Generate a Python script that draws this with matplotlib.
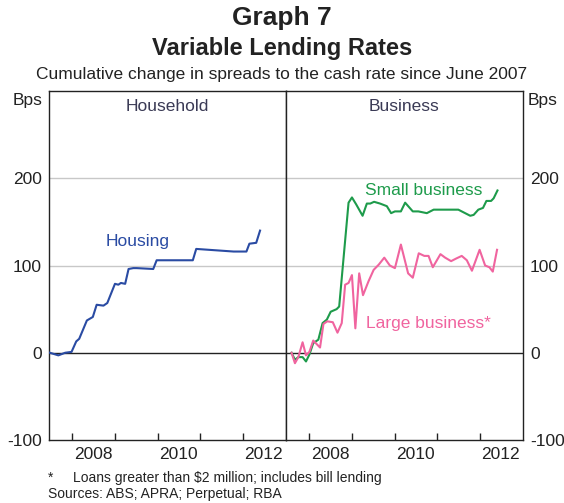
import matplotlib
matplotlib.use("Agg")
import matplotlib.pyplot as plt

plt.rcParams['font.family'] = ['Liberation Sans', 'DejaVu Sans']
plt.rcParams['axes.unicode_minus'] = False

# data (decimal years, basis points)
housing_dates = [2007.47, 2007.67, 2007.83, 2007.98, 2008.09, 2008.16, 2008.34, 2008.48,
                 2008.57, 2008.73, 2008.82, 2009.00, 2009.08, 2009.14, 2009.24, 2009.32,
                 2009.43, 2009.51, 2009.90, 2009.98, 2010.22, 2010.83, 2010.91, 2011.79,
                 2012.09, 2012.16, 2012.32, 2012.41]
housing_bps = [0, -3, 0, 1, 13, 16, 37, 41, 55, 54, 57, 79, 78, 80, 79, 96,
               97, 97, 96, 106, 106, 106, 119, 116, 116, 125, 126, 140]

small_dates = [2007.58, 2007.66, 2007.74, 2007.84, 2007.92, 2008.00, 2008.09, 2008.21,
               2008.31, 2008.41, 2008.50, 2008.64, 2008.70, 2008.92, 2009.00, 2009.10,
               2009.25, 2009.35, 2009.43, 2009.52, 2009.66, 2009.82, 2009.92, 2010.01,
               2010.15, 2010.25, 2010.43, 2010.56, 2010.76, 2010.92, 2011.50, 2011.66,
               2011.78, 2011.86, 2011.97, 2012.08, 2012.16, 2012.27, 2012.33, 2012.42]
small_bps = [0, -8, -5, -5, -10, -2, 11, 15, 34, 38, 47, 50, 53, 172, 178, 170,
             157, 171, 171, 173, 171, 168, 160, 162, 162, 172, 162, 162, 160, 164,
             164, 160, 157, 158, 164, 166, 174, 174, 177, 186]

large_dates = [2007.58, 2007.66, 2007.74, 2007.84, 2007.92, 2008.00, 2008.09, 2008.19,
               2008.25, 2008.33, 2008.42, 2008.55, 2008.66, 2008.76, 2008.84, 2008.92,
               2009.00, 2009.08, 2009.17, 2009.26, 2009.39, 2009.51, 2009.63, 2009.76,
               2009.89, 2010.01, 2010.15, 2010.32, 2010.43, 2010.57, 2010.70, 2010.80,
               2010.90, 2011.08, 2011.19, 2011.33, 2011.45, 2011.58, 2011.70, 2011.82,
               2012.00, 2012.13, 2012.23, 2012.31, 2012.41]
large_bps = [0, -12, -5, 12, -3, 1, 14, 9, 6, 33, 36, 35, 23, 34, 78, 80,
             89, 28, 91, 66, 82, 95, 101, 109, 100, 97, 124, 91, 86, 114, 111, 111,
             98, 113, 109, 105, 108, 111, 106, 94, 118, 100, 98, 93, 118]

year_ticks = [2008, 2009, 2010, 2011, 2012]
year_labels = ['2008', '2010', '2012']
y_ticks = [-100, 0, 100, 200]

blue = '#2a4ba3'
green = '#1e9b4b'
pink = '#f0649f'
dark = '#222222'
fs = 12.5

fig = plt.figure(figsize=(5.64, 5.03), dpi=100)
W, H = 564, 503
axL = fig.add_axes([49 / W, 1 - 440 / H, 237 / W, 349 / H])
axR = fig.add_axes([286 / W, 1 - 440 / H, 237 / W, 349 / H])

for ax in (axL, axR):
    ax.set_xlim(2007.45, 2013.02)
    ax.set_ylim(-100, 300)
    for yv in (100, 200):
        ax.axhline(yv, color='#c8c8c8', lw=1, zorder=1)
    ax.axhline(0, color=dark, lw=1, zorder=2)
    for s in ax.spines.values():
        s.set_color(dark)
        s.set_linewidth(1)
    ax.set_xticks(year_ticks)
    ax.set_xticklabels([])
    ax.tick_params(axis='x', direction='in', length=5, width=1, color=dark)
    ax.set_xticks([y + 0.5 for y in (2008, 2010, 2012)], minor=True)
    ax.set_xticklabels(year_labels, minor=True, fontsize=fs, color=dark)
    ax.tick_params(axis='x', which='minor', length=0, pad=5)
    ax.set_yticks(y_ticks)
    ax.tick_params(axis='y', length=0, labelsize=fs, colors=dark, pad=5)

axR.yaxis.tick_right()

axL.plot(housing_dates, housing_bps, color=blue, lw=1.5, zorder=3)
axR.plot(small_dates, small_bps, color=green, lw=1.5, zorder=3)
axR.plot(large_dates, large_bps, color=pink, lw=1.5, zorder=3)

axL.text(0.5, 0.955, 'Household', transform=axL.transAxes, ha='center', va='center',
         fontsize=fs, color='#3a3a55')
axR.text(0.5, 0.955, 'Business', transform=axR.transAxes, ha='center', va='center',
         fontsize=fs, color='#3a3a55')

axL.text(2008.77, 127, 'Housing', color=blue, fontsize=fs, va='center')
axR.text(2009.31, 186, 'Small business', color=green, fontsize=fs, va='center')
axR.text(2009.33, 33, 'Large business*', color=pink, fontsize=fs, va='center')

fig.text(42 / W, 1 - 101 / H, 'Bps', ha='right', va='center', fontsize=fs, color=dark)
fig.text(528 / W, 1 - 101 / H, 'Bps', ha='left', va='center', fontsize=fs, color=dark)

fig.text(0.5, 1 - 18 / H, 'Graph 7', ha='center', va='center', fontsize=19,
         fontweight='bold', color=dark)
fig.text(0.5, 1 - 48 / H, 'Variable Lending Rates', ha='center', va='center',
         fontsize=17, fontweight='bold', color=dark)
fig.text(0.5, 1 - 74 / H, 'Cumulative change in spreads to the cash rate since June 2007',
         ha='center', va='center', fontsize=12.5, color=dark)

fig.text(48 / W, 1 - 478 / H, '*', ha='left', va='center', fontsize=10, color=dark)
fig.text(73 / W, 1 - 478 / H, 'Loans greater than $2 million; includes bill lending',
         ha='left', va='center', fontsize=10, color=dark)
fig.text(48 / W, 1 - 494 / H, 'Sources: ABS; APRA; Perpetual; RBA',
         ha='left', va='center', fontsize=10, color=dark)

fig.savefig('out.png', dpi=100)
